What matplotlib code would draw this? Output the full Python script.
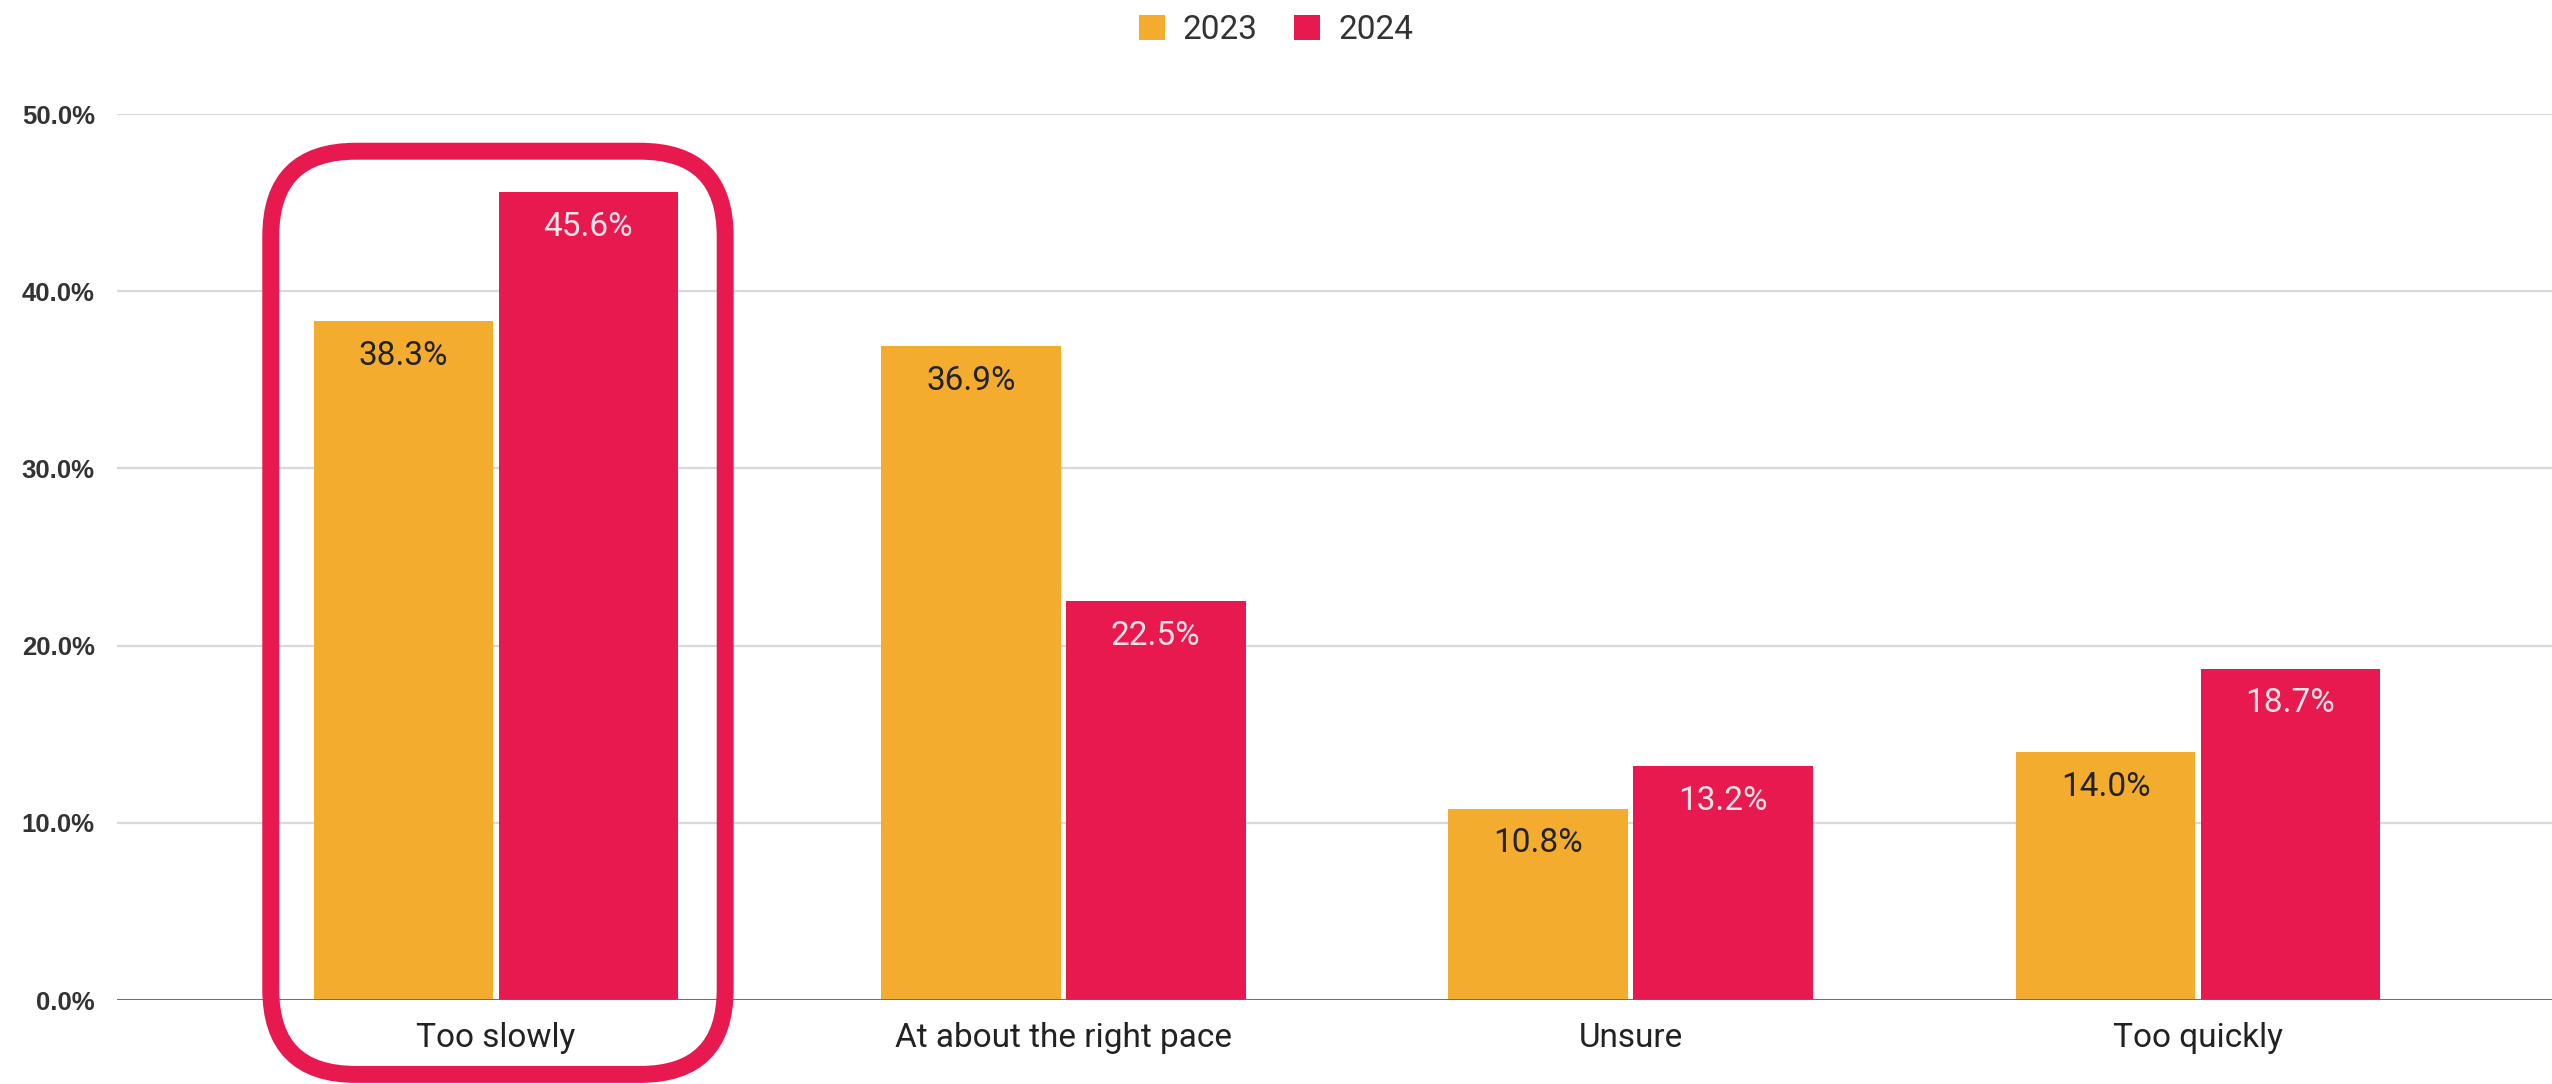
import matplotlib.pyplot as plt
from matplotlib.patches import FancyBboxPatch
import numpy as np

categories = ['Too slowly', 'At about the right pace', 'Unsure', 'Too quickly']
values_2023 = [38.3, 36.9, 10.8, 14.0]
values_2024 = [45.6, 22.5, 13.2, 18.7]
series_labels = ['2023', '2024']
y_ticks = [0, 10, 20, 30, 40, 50]

orange = '#F4AC2E'
red = '#E8194F'

plt.rcParams['font.family'] = ['Roboto', 'DejaVu Sans']

W, H = 2552, 1084
fig = plt.figure(figsize=(W / 100, H / 100), dpi=100)
fig.patch.set_facecolor('white')
ax = fig.add_axes([117 / W, 84 / H, (W - 117) / W, 886 / H])

x = np.arange(len(categories))
bw = 0.317
gap = 0.009
b1 = ax.bar(x - bw / 2 - gap / 2, values_2023, bw, color=orange, label=series_labels[0], zorder=3)
b2 = ax.bar(x + bw / 2 + gap / 2, values_2024, bw, color=red, label=series_labels[1], zorder=3)

for bars, vals, tc in [(b1, values_2023, '#222222'), (b2, values_2024, '#FBE3E8')]:
    for rect, v in zip(bars, vals):
        ax.annotate(f'{v:.1f}%', (rect.get_x() + rect.get_width() / 2, v),
                    xytext=(0, -25), textcoords='offset points',
                    ha='center', va='center', fontsize=24, color=tc, zorder=4)

ax.set_xlim(-0.668, 3.624)
ax.set_ylim(0, 50)
ax.set_yticks(y_ticks)
ax.set_yticklabels([f'{t:.1f}%' for t in y_ticks], fontsize=18.5, color='#333333',
                   family=['Liberation Sans', 'DejaVu Sans'], fontweight='bold')
ax.set_xticks(x)
ax.set_xticklabels(categories, fontsize=24, color='#222222')
ax.tick_params(axis='y', length=0, pad=16)
ax.tick_params(axis='x', length=0, pad=16)
ax.grid(axis='y', color='#D9D9D9', linewidth=1.6, zorder=0)
ax.axhline(0, color='#666666', linewidth=2, zorder=4)
for s in ax.spines.values():
    s.set_visible(False)

# rounded highlight around first group
px_x = (W - 117) / (3.624 + 0.668)
px_y = 886 / 50
aspect = px_x / px_y
x0, x1 = -0.397, 0.404
y0, y1 = -4.2, 47.9
box = FancyBboxPatch((x0, y0), x1 - x0, y1 - y0,
                     boxstyle='round,pad=0,rounding_size=0.15',
                     mutation_aspect=aspect, facecolor='none',
                     edgecolor=red, linewidth=12.2, clip_on=False, zorder=5)
ax.add_patch(box)

fig.legend(loc='center', bbox_to_anchor=(0.5, 1 - 30 / H), ncol=2, frameon=False,
           fontsize=24, handlelength=0.78, handleheight=0.78, handletextpad=0.54,
           columnspacing=1.1, labelcolor='#333333')

fig.savefig('out.png', dpi=100)
